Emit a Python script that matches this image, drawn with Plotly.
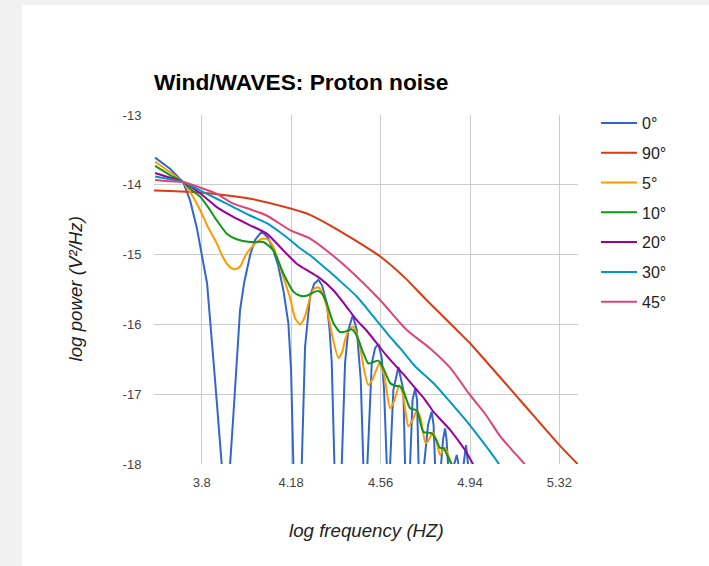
import plotly.graph_objects as go

# ---------------- data ----------------
series_names = ["0°", "90°", "5°", "10°", "20°", "30°", "45°"]
series_colors = ["#3366cc", "#dc3912", "#ff9900", "#109618", "#990099", "#0099c6", "#dd4477"]

x_ticks = [3.8, 4.18, 4.56, 4.94, 5.32]
x_tick_labels = ["3.8", "4.18", "4.56", "4.94", "5.32"]
y_ticks = [-13, -14, -15, -16, -17, -18]
y_tick_labels = ["-13", "-14", "-15", "-16", "-17", "-18"]

# 0 degrees
deg0_x = [3.6015, 3.665, 3.7205, 3.750, 3.778, 3.800, 3.8225, 3.8565, 3.8714, 3.885, 3.9033,
          3.9203, 3.933, 3.9458, 3.9628, 3.9798, 4.0053, 4.0265, 4.055, 4.0818, 4.1043,
          4.1243, 4.1468, 4.168, 4.1795, 4.1893, 4.2071, 4.225, 4.2327, 4.239, 4.2603,
          4.2773, 4.2956, 4.3113, 4.3313, 4.3432, 4.3525, 4.3636, 4.3793, 4.395, 4.409,
          4.423, 4.4418, 4.4588, 4.4758, 4.4868, 4.4953, 4.5038, 4.5225, 4.5366, 4.5506,
          4.565, 4.5748, 4.5863, 4.5931, 4.6003, 4.6143, 4.6356, 4.6568, 4.664, 4.6747,
          4.6853, 4.6959, 4.7065, 4.715, 4.7214, 4.732, 4.7448, 4.7618, 4.7767, 4.7852,
          4.7916, 4.8042, 4.817, 4.8255, 4.834, 4.8404, 4.8468, 4.8595, 4.8722, 4.8837,
          4.8914, 4.902, 4.9126, 4.9232, 4.9318, 4.9402]
deg0_y = [-13.61, -13.77, -13.96, -14.22, -14.60, -14.98, -15.41, -16.80, -17.37, -18.01, -20,
          -18.01, -17.37, -16.65, -15.79, -15.41, -15.01, -14.79, -14.67, -14.76, -14.94,
          -15.15, -15.51, -15.98, -16.65, -18.01, -20, -18.01, -16.94, -16.32, -15.60,
          -15.42, -15.36, -15.44, -15.70, -16.08, -16.55, -18.01, -20, -18.01, -16.55,
          -16.08, -15.87, -16.08, -16.80, -18.01, -20, -18.01, -16.56, -16.34, -16.28,
          -16.48, -16.94, -18.01, -20, -18.01, -16.94, -16.61, -16.94, -18.01, -20,
          -18.01, -17.08, -16.92, -17.08, -18.01, -20, -18.01, -17.44, -17.25, -17.44,
          -18.01, -20, -18.01, -17.65, -17.49, -17.65, -18.01, -20, -18.01, -17.87,
          -18.01, -20, -18.01, -17.73, -18.01, -20]

# 90 degrees
deg90_x = [3.597, 3.6015, 3.795, 4.007, 4.177, 4.26, 4.345, 4.43, 4.56, 4.663, 4.755, 4.8837,
           4.94, 5.154, 5.32, 5.40]
deg90_y = [-14.08, -14.08, -14.11, -14.20, -14.34, -14.43, -14.58, -14.75, -15.03, -15.33, -15.65,
           -16.08, -16.27, -17.09, -17.73, -18.01]

# 5 degrees
deg5_x = [3.6015, 3.665, 3.7205, 3.7588, 3.7928, 3.8268, 3.8638, 3.8863, 3.9063, 3.9245, 3.9415,
          3.9628, 3.9913, 4.0338, 4.0618, 4.0818, 4.1043, 4.1243, 4.1468, 4.1753, 4.1965,
          4.2178, 4.239, 4.2603, 4.2773, 4.2956, 4.3113, 4.3313, 4.3538, 4.3806, 4.3963,
          4.409, 4.426, 4.4418, 4.4558, 4.4728, 4.4898, 4.508, 4.528, 4.5548, 4.5748,
          4.6003, 4.6194, 4.6398, 4.6555, 4.678, 4.6959, 4.715, 4.732, 4.7511, 4.766,
          4.7818, 4.7958, 4.8128, 4.8255, 4.834, 4.8468, 4.8625, 4.868]
deg5_y = [-13.67, -13.82, -13.96, -14.15, -14.36, -14.61, -14.84, -15.01, -15.13, -15.19, -15.21,
          -15.17, -14.98, -14.82, -14.77, -14.79, -14.89, -15.08, -15.32, -15.62, -15.91,
          -16.00, -15.88, -15.62, -15.49, -15.47, -15.54, -15.75, -16.15, -16.48, -16.40,
          -16.22, -16.08, -16.03, -16.11, -16.32, -16.65, -16.87, -16.77, -16.56, -16.72,
          -17.20, -17.08, -16.87, -17.01, -17.46, -17.37, -17.23, -17.37, -17.70, -17.65,
          -17.54, -17.65, -17.87, -17.80, -17.77, -17.87, -18.01, -18.08]

# 10 degrees
deg10_x = [3.6015, 3.665, 3.7205, 3.7588, 3.7928, 3.8268, 3.8638, 3.9063, 3.9488, 4.0053, 4.0618,
           4.1043, 4.1468, 4.1893, 4.2178, 4.2462, 4.2687, 4.2956, 4.3155, 4.3313, 4.3593,
           4.3878, 4.4133, 4.4375, 4.4516, 4.4656, 4.4856, 4.508, 4.528, 4.5506, 4.5706,
           4.6003, 4.6216, 4.6428, 4.6598, 4.6853, 4.7138, 4.7418, 4.7775, 4.7958, 4.8128,
           4.8268, 4.8425, 4.8625, 4.8722]
deg10_y = [-13.73, -13.86, -13.96, -14.08, -14.17, -14.32, -14.51, -14.70, -14.78, -14.82, -14.82,
           -14.94, -15.27, -15.53, -15.59, -15.59, -15.55, -15.52, -15.58, -15.70, -15.98,
           -16.11, -16.10, -16.07, -16.12, -16.22, -16.40, -16.56, -16.54, -16.52, -16.62,
           -16.84, -16.88, -16.89, -16.98, -17.20, -17.23, -17.54, -17.56, -17.65, -17.77,
           -17.77, -17.87, -18.01, -18.08]

# 20 degrees
deg20_x = [3.6015, 3.665, 3.7205, 3.7928, 3.8638, 3.9343, 4.0053, 4.0763, 4.1468, 4.2037, 4.2603,
           4.3028, 4.3593, 4.409, 4.4588, 4.4983, 4.5438, 4.5833, 4.6288, 4.664, 4.7138,
           4.749, 4.7843, 4.817, 4.8553, 4.8893, 4.919, 4.9543, 4.9657]
deg20_y = [-13.83, -13.90, -13.96, -14.12, -14.32, -14.46, -14.58, -14.70, -14.94, -15.13, -15.25,
           -15.34, -15.51, -15.72, -15.94, -16.08, -16.27, -16.44, -16.61, -16.74, -16.94,
           -17.08, -17.25, -17.37, -17.51, -17.66, -17.80, -18.01, -18.08]

# 30 degrees
deg30_x = [3.6015, 3.665, 3.7205, 3.7928, 3.8638, 3.9343, 4.0053, 4.0763, 4.1328, 4.1753, 4.2178,
           4.2603, 4.3168, 4.3453, 4.3878, 4.4588, 4.528, 4.6003, 4.6428, 4.7065, 4.7843,
           4.8553, 4.9262, 4.9912, 5.0605, 5.0719]
deg30_y = [-13.88, -13.92, -13.96, -14.08, -14.20, -14.32, -14.44, -14.55, -14.68, -14.79, -14.91,
           -15.01, -15.17, -15.25, -15.38, -15.60, -15.88, -16.18, -16.34, -16.60, -16.84,
           -17.11, -17.39, -17.67, -17.99, -18.06]

# 45 degrees
deg45_x = [3.6015, 3.665, 3.7205, 3.7928, 3.8638, 3.9343, 4.0053, 4.0763, 4.1753, 4.2603, 4.3453,
           4.4443, 4.5578, 4.6712, 4.7693, 4.8553, 4.9373, 5.004, 5.0678, 5.1188, 5.174, 5.1868]
deg45_y = [-13.93, -13.95, -13.96, -14.04, -14.13, -14.27, -14.35, -14.44, -14.65, -14.77, -14.98,
           -15.27, -15.65, -16.08, -16.34, -16.62, -17.00, -17.28, -17.60, -17.80, -18.01, -18.08]

series_x = [deg0_x, deg90_x, deg5_x, deg10_x, deg20_x, deg30_x, deg45_x]
series_y = [deg0_y, deg90_y, deg5_y, deg10_y, deg20_y, deg30_y, deg45_y]

FONT = "Liberation Sans, Arial, sans-serif"

fig = go.Figure()
for i, (name, color, xs, ys) in enumerate(zip(series_names, series_colors, series_x, series_y)):
    shape = "linear" if i == 0 else "spline"
    line = dict(color=color, width=2, shape=shape)
    if shape == "spline":
        line["smoothing"] = 0.6
    fig.add_trace(go.Scatter(x=xs, y=ys, mode="lines", name=name, line=line,
                             legendgroup=f"g{i}", hoverinfo="skip"))

W, H = 709, 566
ML, MR, MT, MB = 154, 131, 115, 102
pw, ph = W - ML - MR, H - MT - MB


def px_x(px):
    return (px - ML) / pw


def px_y(py):
    return (H - MB - py) / ph


fig.update_layout(
    width=W, height=H, autosize=False,
    margin=dict(l=ML, r=MR, t=MT, b=MB, pad=0),
    paper_bgcolor="#f1f1f1",
    plot_bgcolor="rgba(0,0,0,0)",
    font=dict(family=FONT, color="#444"),
    title=dict(text="<b>Wind/WAVES: Proton noise</b>", font=dict(family=FONT, size=22.7, color="#000"),
               x=154 / W, xanchor="left", xref="container",
               y=1 - 82 / H, yanchor="middle", yref="container"),
    xaxis=dict(range=[3.597, 5.399], tickvals=x_ticks, ticktext=x_tick_labels,
               showgrid=True, gridcolor="#cccccc", gridwidth=1, zeroline=False, showline=False,
               ticks="outside", ticklen=6, tickcolor="rgba(0,0,0,0)",
               tickfont=dict(family=FONT, size=13, color="#444")),
    yaxis=dict(range=[-18, -13], tickvals=y_ticks, ticktext=y_tick_labels,
               showgrid=True, gridcolor="#cccccc", gridwidth=1, zeroline=False, showline=False,
               ticks="outside", ticklen=9, tickcolor="rgba(0,0,0,0)",
               tickfont=dict(family=FONT, size=13, color="#444")),
    legend=dict(x=px_x(596), xanchor="left", y=px_y(106), yanchor="top",
                font=dict(family=FONT, size=16, color="#222"),
                bgcolor="rgba(0,0,0,0)", borderwidth=0, tracegroupgap=6,
                itemwidth=36),
    shapes=[dict(type="rect", xref="paper", yref="paper", layer="below",
                 x0=px_x(22), x1=px_x(W + 10), y0=px_y(H + 10), y1=px_y(5),
                 fillcolor="#ffffff", line=dict(width=0))],
    annotations=[
        dict(text="<i>log frequency (HZ)</i>", xref="paper", yref="paper",
             x=0.5, y=px_y(530), xanchor="center", yanchor="middle", showarrow=False,
             font=dict(family=FONT, size=18.7, color="#222")),
        dict(text="<i>log power (V²/Hz)</i>", xref="paper", yref="paper",
             x=px_x(75), y=0.5, xanchor="center", yanchor="middle", showarrow=False,
             textangle=-90, font=dict(family=FONT, size=18.7, color="#222")),
    ],
    showlegend=True,
)

fig.write_html("out.html")
